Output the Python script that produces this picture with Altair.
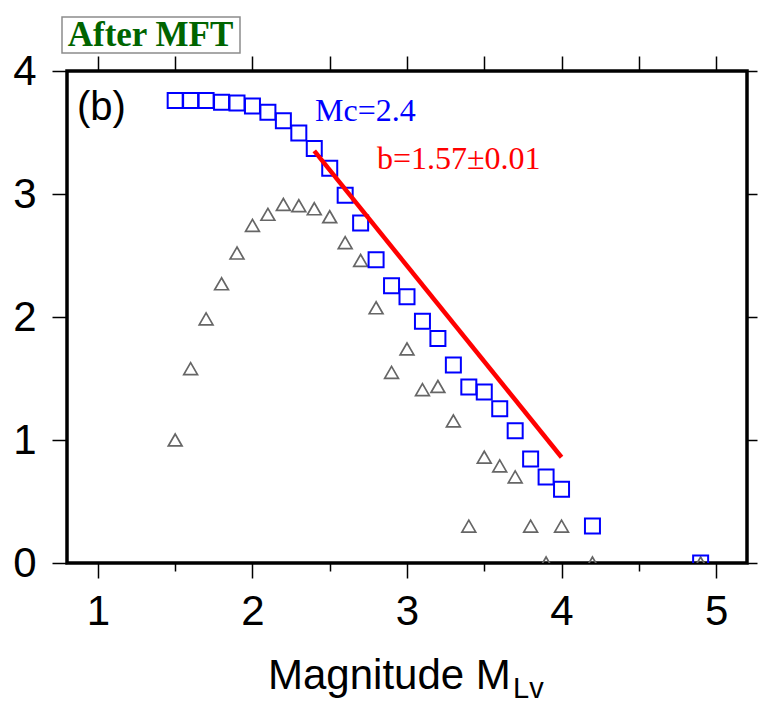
import altair as alt
import pandas as pd

# ---- data ----
mag = [1.5, 1.6, 1.7, 1.8, 1.9, 2.0, 2.1, 2.2, 2.3, 2.4, 2.5, 2.6, 2.7, 2.8, 2.9,
       3.0, 3.1, 3.2, 3.3, 3.4, 3.5, 3.6, 3.7, 3.8, 3.9, 4.0, 4.2, 4.9]
log_cum = [3.76, 3.76, 3.76, 3.745, 3.74, 3.715, 3.665, 3.595, 3.495, 3.37, 3.21,
           2.99, 2.765, 2.465, 2.255, 2.165, 1.965, 1.825, 1.61, 1.43, 1.39, 1.255,
           1.075, 0.845, 0.70, 0.60, 0.30, 0.0]
log_inc = [1.0, 1.58, 1.985, 2.27, 2.52, 2.745, 2.835, 2.915, 2.905, 2.88, 2.815,
           2.605, 2.46, 2.075, 1.55, 1.74, 1.41, 1.435, 1.155, 0.30, 0.86, 0.79,
           0.70, 0.30, 0.0, 0.30, 0.0, 0.0]
fit_mag = [2.4, 4.0]
fit_log = [3.35, 0.86]
x_ticks = [1.0, 1.5, 2.0, 2.5, 3.0, 3.5, 4.0, 4.5, 5.0]
y_ticks = [0, 1, 2, 3, 4]

df_inc = pd.DataFrame({"mag": mag, "logN": log_inc})
df_cum = pd.DataFrame({"mag": mag, "logN": log_cum})
df_fit = pd.DataFrame({"mag": fit_mag, "logN": fit_log})
one = pd.DataFrame({"k": [0]})

XS = alt.Scale(domain=[0.8, 5.2], nice=False, zero=False)
YS = alt.Scale(domain=[0, 4], nice=False, zero=False)

FONT = "Liberation Sans"

ax_bottom = alt.Axis(
    orient="bottom", values=x_ticks, domain=False, grid=False, title=None,
    tickSize={"condition": {"test": "datum.value % 1 === 0", "value": 15}, "value": 8},
    tickWidth=1.5, tickColor="black",
    labelExpr="datum.value % 1 === 0 ? format(datum.value, 'd') : ''",
    labelFont=FONT, labelFontSize=42, labelPadding=13, labelColor="black",
)
ax_left = alt.Axis(
    orient="left", values=y_ticks, domain=False, grid=False, title=None,
    tickSize=15, tickWidth=1.5, tickColor="black", format="d",
    labelFont=FONT, labelFontSize=42, labelPadding=16, labelColor="black",
)
ax_top = alt.Axis(
    orient="top", values=x_ticks, domain=False, grid=False, title=None,
    tickSize=15, tickWidth=1.5, tickColor="black", labels=False,
)
ax_right = alt.Axis(
    orient="right", values=y_ticks, domain=False, grid=False, title=None,
    tickSize=10, tickWidth=1.5, tickColor="black", labels=False,
)

tri = alt.Chart(df_inc).mark_point(
    shape="triangle-up", size=190, filled=False, color="#666666",
    strokeWidth=1.7, opacity=1, clip=True,
).encode(
    x=alt.X("mag:Q", scale=XS, axis=ax_bottom),
    y=alt.Y("logN:Q", scale=YS, axis=ax_left),
)

sq = alt.Chart(df_cum).mark_point(
    shape="square", size=225, filled=False, color="#0000ff",
    strokeWidth=2, opacity=1, clip=True,
).encode(
    x=alt.X("mag:Q", scale=XS, axis=ax_top),
    y=alt.Y("logN:Q", scale=YS, axis=ax_right),
)

fit = alt.Chart(df_fit).mark_line(color="#ff0000", strokeWidth=4.5).encode(
    x=alt.X("mag:Q", scale=XS, axis=None),
    y=alt.Y("logN:Q", scale=YS, axis=None),
)

box = alt.Chart(one).mark_rect(fill="white", stroke="#8c8c8c", strokeWidth=1.5).encode(
    x=alt.value(-5), x2=alt.value(173), y=alt.value(-54), y2=alt.value(-18)
)
box_txt = alt.Chart(one).mark_text(
    text="After MFT", font="Liberation Serif", fontWeight="bold", fontSize=35,
    color="#006400", align="center", baseline="alphabetic",
).encode(x=alt.value(83.5), y=alt.value(-25))

panel = alt.Chart(one).mark_text(
    text="(b)", font=FONT, fontSize=40, color="black", align="left", baseline="alphabetic"
).encode(x=alt.value(10), y=alt.value(49))

mc_txt = alt.Chart(one).mark_text(
    text="Mc=2.4", font="Liberation Serif", fontSize=32, color="#0000ff",
    align="left", baseline="alphabetic",
).encode(x=alt.value(248), y=alt.value(50))

b_txt = alt.Chart(one).mark_text(
    text="b=1.57±0.01", font="Liberation Serif", fontSize=32, color="#ff0000",
    align="left", baseline="alphabetic",
).encode(x=alt.value(310), y=alt.value(98))

xt_main = alt.Chart(one).mark_text(
    text="Magnitude M", font=FONT, fontSize=42, color="black",
    align="left", baseline="alphabetic",
).encode(x=alt.value(201), y=alt.value(618))

xt_sub = alt.Chart(one).mark_text(
    text="Lv", font=FONT, fontSize=29, color="black",
    align="left", baseline="alphabetic",
).encode(x=alt.value(446), y=alt.value(627))

chart = alt.layer(
    tri, sq, fit, box, box_txt, panel, mc_txt, b_txt, xt_main, xt_sub
).resolve_axis(
    x="independent", y="independent"
).properties(
    width=680, height=492,
    padding={"left": 67, "top": 71, "right": 11, "bottom": 142},
    autosize=alt.AutoSizeParams(type="none"),
).configure_view(
    stroke="black", strokeWidth=3.5
)

chart.save("out.html", embed_options={"renderer": "svg", "actions": False})
